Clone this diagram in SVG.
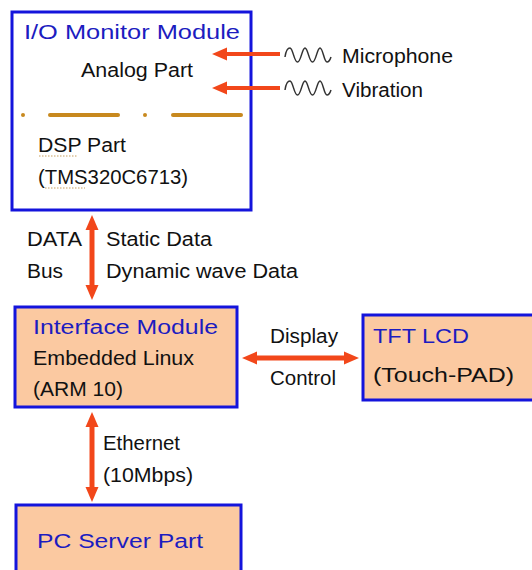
<svg xmlns="http://www.w3.org/2000/svg" width="532" height="570" viewBox="0 0 532 570">
<style>
.box{stroke:#1414dc;stroke-width:3}
.t{font-family:"Liberation Sans",Arial,sans-serif;font-size:20px;fill:#111}
.bt{font-family:"Liberation Sans",Arial,sans-serif;font-size:20px;fill:#1c1cc0}
.ar{stroke:#f2471a;fill:none}
.wave{stroke:#333;stroke-width:1.5;fill:none}
.sq{stroke:#c8a060;stroke-width:1.2;stroke-dasharray:1.5 1.5;fill:none}
</style>
<defs>
<marker id="ah" markerUnits="userSpaceOnUse" markerWidth="15" markerHeight="14" refX="3" refY="7" orient="auto-start-reverse">
<path d="M0,0.5 L15,7 L0,13.5 Z" fill="#f2471a"/>
</marker>
<path id="wv" d="M285,57 C286,50 288,48 290,48 C293,48 294,62 297.5,62 C301,62 302,48 305,48 C308,48 309,62 312.5,62 C316,62 317,48 320,48 C323,48 324,62 327,62 C329,62 330,60 331,57"/>
</defs>
<rect width="532" height="570" fill="#fff"/>
<g id="io-monitor">
<rect class="box" x="12" y="12" width="239" height="198" fill="#fff"/>
<text class="bt" x="24" y="39" textLength="216" lengthAdjust="spacingAndGlyphs">I/O Monitor Module</text>
<text class="t" x="81" y="77" textLength="112" lengthAdjust="spacingAndGlyphs">Analog Part</text>
<g stroke="#c8891e" stroke-width="4" stroke-linecap="round">
<line x1="23" y1="115" x2="23" y2="115"/>
<line x1="50" y1="115" x2="118" y2="115"/>
<line x1="145" y1="115" x2="145" y2="115"/>
<line x1="173" y1="115" x2="241" y2="115"/>
</g>
<text class="t" x="38" y="152" textLength="88" lengthAdjust="spacingAndGlyphs">DSP Part</text>
<path class="sq" d="M39,156 H77"/>
<text class="t" x="38" y="184" textLength="150" lengthAdjust="spacingAndGlyphs">(TMS320C6713)</text>
<path class="sq" d="M45,188 H85"/>
</g>
<g id="microphone">
<use href="#wv" class="wave"/>
<text class="t" x="342" y="63" textLength="111" lengthAdjust="spacingAndGlyphs">Microphone</text>
</g>
<g id="vibration">
<use href="#wv" class="wave" transform="translate(0,33)"/>
<text class="t" x="342" y="97" textLength="81" lengthAdjust="spacingAndGlyphs">Vibration</text>
</g>
<g id="interface-module">
<rect class="box" x="15" y="307" width="222" height="100" fill="#fbc9a1"/>
<text class="bt" x="33" y="334" textLength="185" lengthAdjust="spacingAndGlyphs">Interface Module</text>
<text class="t" x="33" y="365" textLength="161" lengthAdjust="spacingAndGlyphs">Embedded Linux</text>
<text class="t" x="33" y="396" textLength="90" lengthAdjust="spacingAndGlyphs">(ARM 10)</text>
</g>
<g id="tft-lcd">
<rect class="box" x="363" y="315" width="175" height="85" fill="#fbc9a1"/>
<text class="bt" x="373" y="343" textLength="96" lengthAdjust="spacingAndGlyphs">TFT LCD</text>
<text class="t" x="373" y="382" textLength="141" lengthAdjust="spacingAndGlyphs">(Touch-PAD)</text>
</g>
<g id="pc-server">
<rect class="box" x="16" y="505" width="225" height="80" fill="#fbc9a1"/>
<text class="bt" x="37" y="548" textLength="166" lengthAdjust="spacingAndGlyphs">PC Server Part</text>
</g>
<g id="connectors">
<line class="ar" x1="280" y1="54" x2="224" y2="54" stroke-width="4" marker-end="url(#ah)"/>
<line class="ar" x1="280" y1="88" x2="224" y2="88" stroke-width="4" marker-end="url(#ah)"/>
<line class="ar" x1="92" y1="227" x2="92" y2="288" stroke-width="5" marker-start="url(#ah)" marker-end="url(#ah)"/>
<line class="ar" x1="254" y1="358" x2="347" y2="358" stroke-width="5" marker-start="url(#ah)" marker-end="url(#ah)"/>
<line class="ar" x1="92" y1="424" x2="92" y2="490" stroke-width="5" marker-start="url(#ah)" marker-end="url(#ah)"/>
<text class="t" x="27" y="246" textLength="55" lengthAdjust="spacingAndGlyphs">DATA</text>
<text class="t" x="27" y="278" textLength="36" lengthAdjust="spacingAndGlyphs">Bus</text>
<text class="t" x="106" y="246" textLength="106" lengthAdjust="spacingAndGlyphs">Static Data</text>
<text class="t" x="106" y="278" textLength="192" lengthAdjust="spacingAndGlyphs">Dynamic wave Data</text>
<text class="t" x="270" y="343" textLength="68" lengthAdjust="spacingAndGlyphs">Display</text>
<text class="t" x="270" y="385" textLength="66" lengthAdjust="spacingAndGlyphs">Control</text>
<text class="t" x="103" y="450" textLength="77" lengthAdjust="spacingAndGlyphs">Ethernet</text>
<text class="t" x="103" y="482" textLength="90" lengthAdjust="spacingAndGlyphs">(10Mbps)</text>
</g>
</svg>
